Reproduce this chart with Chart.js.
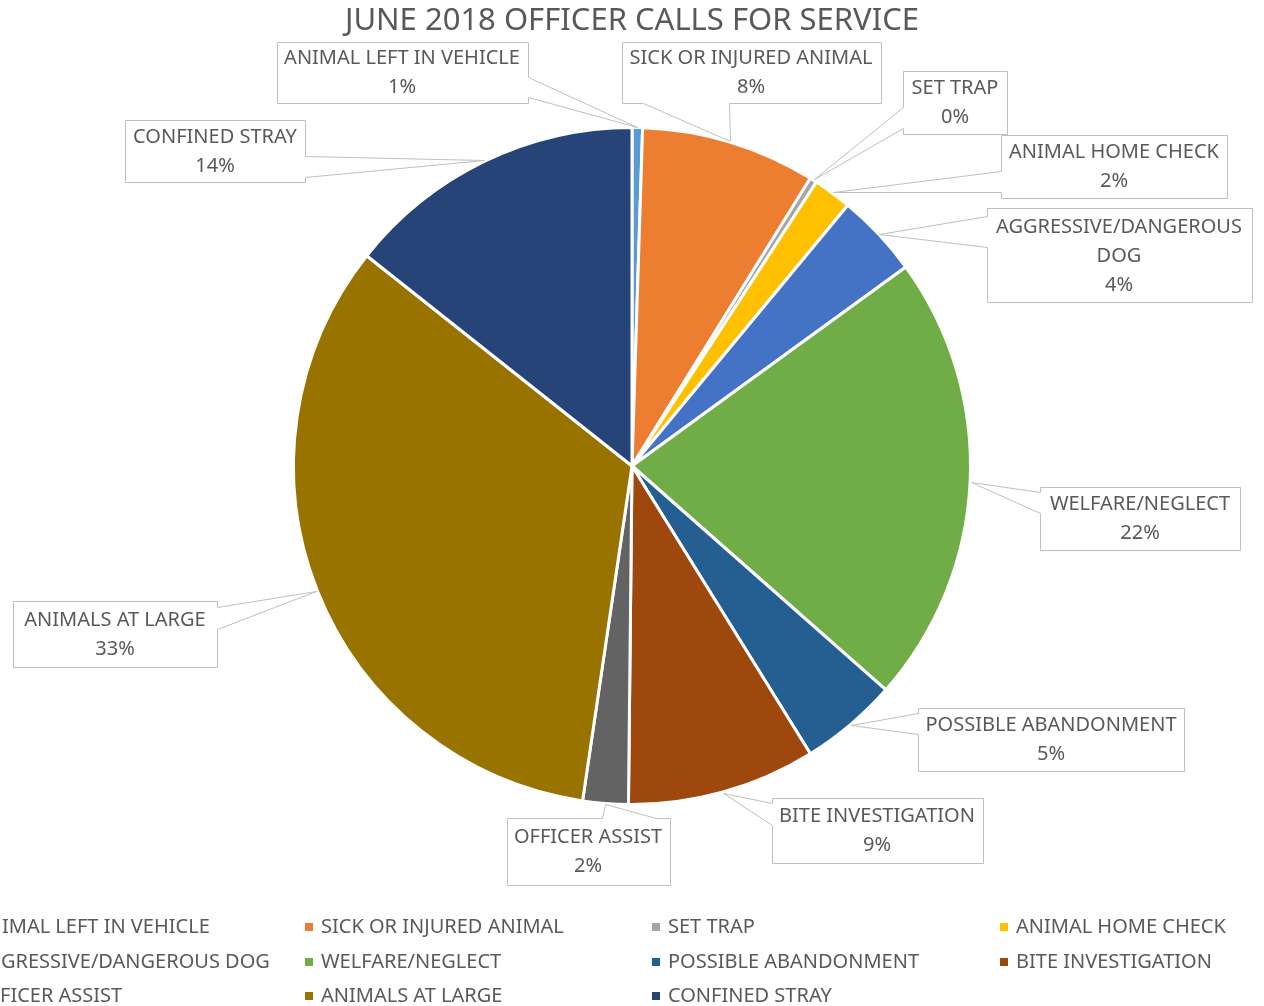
<!DOCTYPE html>
<html>
<head>
<meta charset="utf-8">
<title>June 2018 Officer Calls for Service</title>
<script src="https://cdn.jsdelivr.net/npm/chart.js@4/dist/chart.umd.min.js"></script>
<style>
  html, body { margin: 0; padding: 0; background: #fff; }
  #wrap { position: relative; width: 1264px; height: 1006px; }
</style>
</head>
<body>
<div id="wrap"><canvas id="chart-pie" width="1264" height="1006"></canvas></div>
<script>
// categorias y numero de llamadas
const categories = [
  "ANIMAL LEFT IN VEHICLE",
  "SICK OR INJURED ANIMAL",
  "SET TRAP",
  "ANIMAL HOME CHECK",
  "AGGRESSIVE/DANGEROUS DOG",
  "WELFARE/NEGLECT",
  "POSSIBLE ABANDONMENT",
  "BITE INVESTIGATION",
  "OFFICER ASSIST",
  "ANIMALS AT LARGE",
  "CONFINED STRAY"
];
const calls = [3, 50, 2, 11, 24, 129, 28, 54, 13, 200, 86];
const colors = [
  "#5B9BD5", "#ED7D31", "#A5A5A5", "#FFC000", "#4472C4", "#70AD47",
  "#255E91", "#9E480E", "#636363", "#997300", "#264478"
];
const chartTitle = "JUNE 2018 OFFICER CALLS FOR SERVICE";

// cajas de las etiquetas: centro x, centro y, ancho, alto
const calloutBoxes = [
  [402, 72, 251, 61],
  [751, 72, 259, 61],
  [955, 102, 104, 63],
  [1114, 166, 226, 63],
  [1119, 255, 265, 94],
  [1140, 518, 200, 63],
  [1051, 739, 266, 63],
  [877, 830, 211, 65],
  [588, 851, 163, 67],
  [115, 634, 204, 66],
  [215, 151, 180, 62]
];

const FONT = '"Noto Sans", "Open Sans", sans-serif';
const GREY_TEXT = "#595959";
const GREY_LINE = "#BFBFBF";

function wrapText(c, text, maxW) {
  if (c.measureText(text).width <= maxW) return [text];
  const words = text.split(" ");
  let lines = [];
  let line = "";
  words.forEach(function (w) {
    let test = line ? line + " " + w : w;
    if (c.measureText(test).width > maxW && line) {
      lines.push(line);
      line = w;
    } else {
      line = test;
    }
  });
  if (line) lines.push(line);
  return lines;
}

// Dibuja la caja con su cuña apuntando a la porcion (como el callout de Excel)
function drawCallout(c, box, ax, ay) {
  const w = box[2], h = box[3];
  const x0 = box[0] - w / 2, x1 = box[0] + w / 2;
  const y0 = box[1] - h / 2, y1 = box[1] + h / 2;
  const dxn = (ax - box[0]) / w;
  const dyn = (ay - box[1]) / h;
  let pts;
  if (Math.abs(dxn) > Math.abs(dyn)) {
    // cuña en el lado izquierdo / derecho
    const b0 = ay < box[1] ? y0 + h / 12 : y0 + 7 * h / 12;
    const b1 = ay < box[1] ? y0 + 5 * h / 12 : y0 + 11 * h / 12;
    if (dxn > 0) {
      pts = [[x0, y0], [x1, y0], [x1, b0], [ax, ay], [x1, b1], [x1, y1], [x0, y1]];
    } else {
      pts = [[x0, y0], [x1, y0], [x1, y1], [x0, y1], [x0, b1], [ax, ay], [x0, b0]];
    }
  } else {
    // cuña arriba / abajo
    const b0 = ax < box[0] ? x0 + w / 12 : x0 + 7 * w / 12;
    const b1 = ax < box[0] ? x0 + 5 * w / 12 : x0 + 11 * w / 12;
    if (dyn < 0) {
      pts = [[x0, y0], [b0, y0], [ax, ay], [b1, y0], [x1, y0], [x1, y1], [x0, y1]];
    } else {
      pts = [[x0, y0], [x1, y0], [x1, y1], [b1, y1], [ax, ay], [b0, y1], [x0, y1]];
    }
  }
  c.beginPath();
  c.moveTo(Math.round(pts[0][0]) + 0.5, Math.round(pts[0][1]) + 0.5);
  for (let i = 1; i < pts.length; i++) {
    c.lineTo(Math.round(pts[i][0]) + 0.5, Math.round(pts[i][1]) + 0.5);
  }
  c.closePath();
  c.fillStyle = "#fff";
  c.fill();
  c.strokeStyle = GREY_LINE;
  c.lineWidth = 1;
  c.stroke();
}

const calloutPlugin = {
  id: "callouts",
  afterDatasetsDraw(chart) {
    const c = chart.ctx;
    const meta = chart.getDatasetMeta(0);
    const data = chart.data.datasets[0].data;
    const total = data.reduce(function (a, b) { return a + b; }, 0);
    c.save();
    meta.data.forEach(function (arc, i) {
      const p = arc.getProps(["x", "y", "startAngle", "endAngle", "outerRadius"], true);
      const mid = (p.startAngle + p.endAngle) / 2;
      const ax = p.x + Math.cos(mid) * (p.outerRadius + 1);
      const ay = p.y + Math.sin(mid) * (p.outerRadius + 1);
      const box = calloutBoxes[i];
      drawCallout(c, box, ax, ay);

      c.font = "20px " + FONT;
      c.fillStyle = GREY_TEXT;
      c.textAlign = "center";
      c.textBaseline = "middle";
      let lines = wrapText(c, categories[i], box[2] - 6);
      lines.push(Math.round(data[i] * 100 / total) + "%");
      const lh = 29;
      const top = box[1] + 1 - (lines.length - 1) * lh / 2;
      lines.forEach(function (t, k) {
        c.fillText(t, box[0], top + k * lh);
      });
    });
    c.restore();
  },
  afterDraw(chart) {
    const c = chart.ctx;
    c.save();
    // titulo
    c.font = "31px " + FONT;
    c.fillStyle = GREY_TEXT;
    c.textAlign = "center";
    c.textBaseline = "middle";
    c.fillText(chartTitle, 632, 21);

    // leyenda de 4 columnas (la primera queda cortada a la izquierda)
    const colX = [-42, 305, 652, 1000];
    const rowY = [927, 962, 996];
    c.font = "20px " + FONT;
    c.textAlign = "left";
    categories.forEach(function (name, i) {
      const x = colX[i % 4];
      const y = rowY[Math.floor(i / 4)];
      c.fillStyle = colors[i];
      c.fillRect(x, y - 4, 8, 8);
      c.fillStyle = GREY_TEXT;
      c.fillText(name, x + 16, y);
    });
    c.restore();
  }
};

const ctx = document.getElementById("chart-pie").getContext("2d");
let myChart = new Chart(ctx, {
  type: "pie",
  data: {
    labels: categories,
    datasets: [
      {
        data: calls,
        backgroundColor: colors,
        borderColor: "#ffffff",
        borderWidth: 3,
      }
    ],
  },
  options: {
    responsive: false,
    animation: false,
    layout: {
      padding: { top: 126, bottom: 200, left: 292, right: 292 }
    },
    plugins: {
      legend: { display: false },
      title: { display: false },
      tooltip: { enabled: false },
    },
  },
  plugins: [calloutPlugin],
});
</script>
</body>
</html>
